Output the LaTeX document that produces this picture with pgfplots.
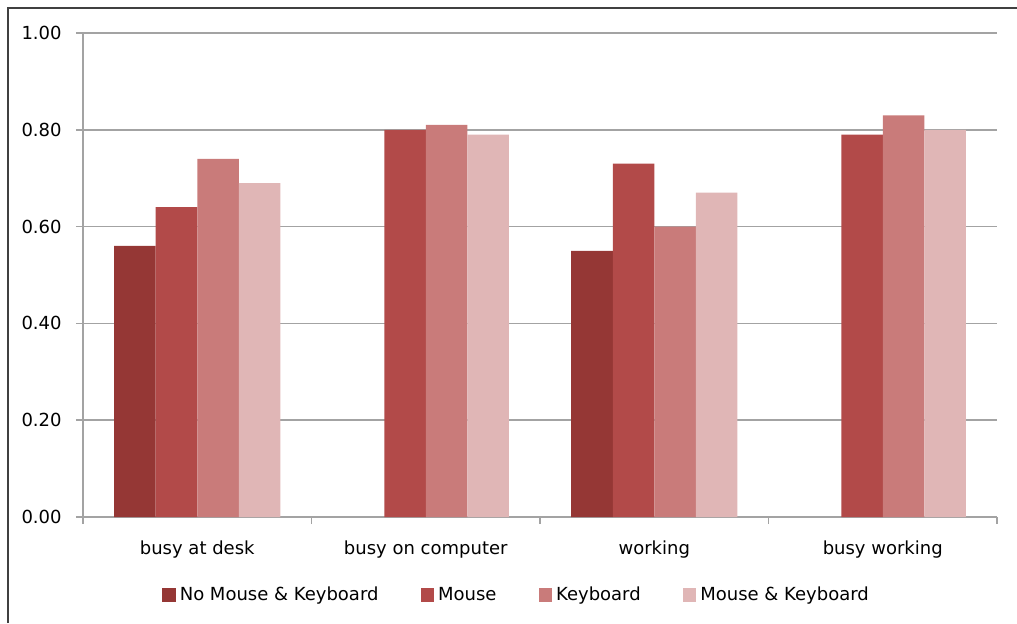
\documentclass[border=0pt]{standalone}
\usepackage{pgfplots}
\pgfplotsset{compat=1.18}
\usepackage{fontspec}
\setmainfont{DejaVu Sans}
\definecolor{noneC}{HTML}{953735}
\definecolor{mouseC}{HTML}{B24A49}
\definecolor{keyC}{HTML}{C97B7A}
\definecolor{bothC}{HTML}{E0B6B6}
\definecolor{gridC}{HTML}{A3A3A3}
\definecolor{frameC}{HTML}{404040}
\begin{document}
\fontsize{9}{11}\selectfont
\begin{tikzpicture}
\useasboundingbox (0,0) rectangle (508.5pt,311.5pt);
\draw[frameC, line width=1pt] (4pt,0pt) -- (4pt,307.5pt) -- (508.5pt,307.5pt);
\begin{axis}[
  at={(41.5pt,53pt)}, anchor=south west,
  scale only axis, width=457pt, height=242pt,
  ybar=0pt, bar width=20.75pt,
  legend image code/.code={\fill[#1] (0pt,-3.7pt) rectangle (6.8pt,3.7pt);},
  xmin=-0.5, xmax=3.5, ymin=0, ymax=1,
  enlargelimits=false,
  axis x line*=bottom, axis y line*=left,
  axis line style={gridC, line width=0.8pt},
  ymajorgrids, grid style={gridC, line width=0.8pt},
  tick style={gridC, line width=0.8pt},
  tick align=outside, major tick length=3.5pt,
  xtick={-0.5,0.5,1.5,2.5,3.5},
  x tick label as interval,
  xticklabels={busy at desk, busy on computer, working, busy working},
  xticklabel style={yshift=-5pt},
  ytick={0,0.2,0.4,0.6,0.8,1},
  yticklabel style={xshift=-4pt, /pgf/number format/.cd, fixed, fixed zerofill, precision=2, assume math mode=true},
  legend style={at={(0.4754,-0.161)}, anchor=center, legend columns=-1, draw=none,
    /tikz/every even column/.append style={column sep=19pt}},
]
\addplot[fill=noneC, draw=none] coordinates {(0,0.56) (2,0.55)};
\addplot[fill=mouseC, draw=none] coordinates {(0,0.64) (1,0.80) (2,0.73) (3,0.79)};
\addplot[fill=keyC, draw=none] coordinates {(0,0.74) (1,0.81) (2,0.60) (3,0.83)};
\addplot[fill=bothC, draw=none] coordinates {(0,0.69) (1,0.79) (2,0.67) (3,0.80)};
\legend{No Mouse \& Keyboard, Mouse, Keyboard, Mouse \& Keyboard}
\end{axis}
\end{tikzpicture}
\end{document}
